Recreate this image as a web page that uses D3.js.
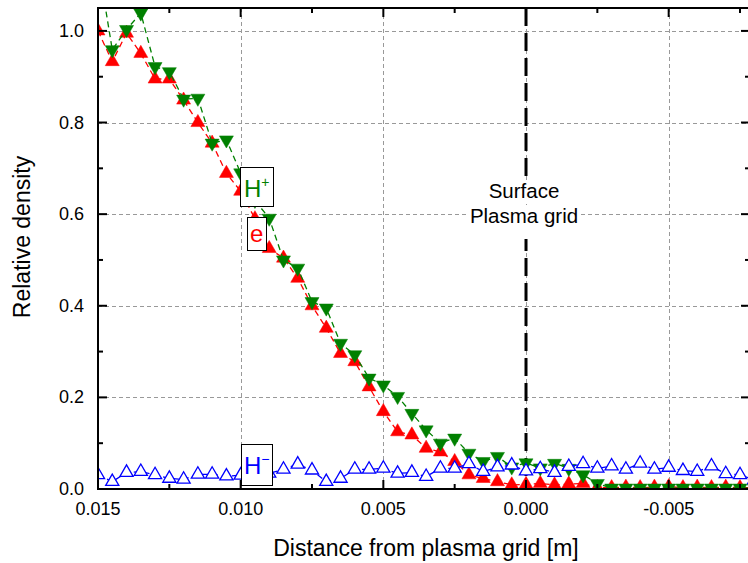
<!DOCTYPE html>
<html>
<head>
  <meta charset="utf-8">
  <title>Relative density vs distance from plasma grid</title>
  <script src="https://d3js.org/d3.v7.min.js"></script>
  <style>
    body { margin: 0; background: #fff; }
    text { font-family: "Liberation Sans", Arial, sans-serif; }
  </style>
</head>
<body>
<div id="chart"></div>
<script>
// distance from plasma grid [m]
var distance = [0.015, 0.0145, 0.014, 0.0135, 0.013, 0.0125, 0.012, 0.0115, 0.011, 0.0105,
  0.010, 0.0095, 0.009, 0.0085, 0.008, 0.0075, 0.007, 0.0065, 0.006, 0.0055,
  0.005, 0.0045, 0.004, 0.0035, 0.003, 0.0025, 0.002, 0.0015, 0.001, 0.0005,
  0.0, -0.0005, -0.001, -0.0015, -0.002, -0.0025, -0.003, -0.0035, -0.004, -0.0045,
  -0.005, -0.0055, -0.006, -0.0065, -0.007, -0.0075, -0.008];

// electrons
var electrons = [1.00, 0.933, 0.995, 0.951, 0.895, 0.895, 0.849, 0.80, 0.755, 0.689,
  0.65, 0.59, 0.525, 0.504, 0.46, 0.40, 0.351, 0.296, 0.278, 0.223,
  0.169, 0.125, 0.118, 0.089, 0.081, 0.060, 0.031, 0.023, 0.016, 0.009,
  0.010, 0.012, 0.009, 0.011, 0.012, 0.003, 0.003, 0.004, 0.003, 0.004,
  0.005, 0.003, 0.004, 0.003, 0.004, 0.003, 0.003];

// positive ions H+
var hPlus = [1.15, 0.959, 1.003, 1.039, 0.922, 0.911, 0.851, 0.853, 0.755, 0.762,
  0.69, 0.63, 0.591, 0.50, 0.482, 0.409, 0.395, 0.318, 0.293, 0.242,
  0.227, 0.202, 0.165, 0.129, 0.10, 0.111, 0.078, 0.060, 0.071, 0.048,
  0.057, 0.046, 0.056, 0.045, 0.031, 0.012, 0.002, 0.002, 0.002, 0.002,
  0.002, 0.002, 0.002, 0.002, 0.002, 0.002, 0.002];

// negative ions H-
var hMinus = [0.031, 0.016, 0.036, 0.038, 0.031, 0.023, 0.021, 0.032, 0.032, 0.028,
  0.030, 0.033, 0.034, 0.043, 0.054, 0.041, 0.016, 0.023, 0.043, 0.043,
  0.045, 0.034, 0.036, 0.027, 0.045, 0.045, 0.055, 0.038, 0.048, 0.052,
  0.039, 0.044, 0.036, 0.049, 0.055, 0.045, 0.050, 0.043, 0.056, 0.043,
  0.047, 0.040, 0.038, 0.050, 0.033, 0.031, 0.020];

var xTicks = [0.015, 0.010, 0.005, 0.000, -0.005];
var xMinor = [0.0125, 0.0075, 0.0025, -0.0025, -0.0075];
var yTicks = [0.0, 0.2, 0.4, 0.6, 0.8, 1.0];
var yMinor = [0.1, 0.3, 0.5, 0.7, 0.9];

var W = 748, H = 563;
var pL = 98, pR = 750, pT = 8, pB = 489;

var svg = d3.select("#chart").append("svg")
  .attr("width", W).attr("height", H);

var x = d3.scaleLinear().domain([0.015, -0.00785]).range([pL, pR]);
var y = d3.scaleLinear().domain([0, 1.05]).range([pB, pT]);

svg.append("defs").append("clipPath").attr("id", "clip")
  .append("rect").attr("x", pL).attr("y", pT)
  .attr("width", pR - pL).attr("height", pB - pT);

// grid
var grid = svg.append("g").attr("stroke", "#999").attr("stroke-width", 1)
  .attr("stroke-dasharray", "4,3");
grid.selectAll(".gx").data(xTicks.slice(1)).enter().append("line")
  .attr("x1", function(d) { return Math.round(x(d)) + 0.5; })
  .attr("x2", function(d) { return Math.round(x(d)) + 0.5; })
  .attr("y1", pT).attr("y2", pB);
grid.selectAll(".gy").data(yTicks.slice(1)).enter().append("line")
  .attr("y1", function(d) { return Math.round(y(d)) + 0.5; })
  .attr("y2", function(d) { return Math.round(y(d)) + 0.5; })
  .attr("x1", pL).attr("x2", pR);

// surface line at x = 0
svg.append("line")
  .attr("x1", x(0)).attr("x2", x(0)).attr("y1", pT).attr("y2", pB)
  .attr("stroke", "#000").attr("stroke-width", 3)
  .attr("stroke-dasharray", "18,7");

var plot = svg.append("g").attr("clip-path", "url(#clip)");

var series = [
  { name: "e", values: electrons, color: "#ff0000", fill: true, rot: 0 },
  { name: "H+", values: hPlus, color: "#008000", fill: true, rot: 180 },
  { name: "H-", values: hMinus, color: "#0000ff", fill: false, rot: 0 }
];

var line = d3.line()
  .x(function(d) { return x(d[0]); })
  .y(function(d) { return y(d[1]); });

series.forEach(function(s) {
  var pts = distance.map(function(d, i) { return [d, s.values[i]]; });
  plot.append("path").datum(pts)
    .attr("d", line).attr("fill", "none")
    .attr("stroke", s.color).attr("stroke-width", 1.3)
    .attr("stroke-dasharray", "6,4");
  plot.selectAll(null).data(pts).enter().append("path")
    .attr("d", d3.symbol(d3.symbolTriangle, s.fill ? 85 : 75))
    .attr("transform", function(d) {
      return "translate(" + x(d[0]) + "," + y(d[1]) + ") rotate(" + s.rot + ")";
    })
    .attr("fill", s.fill ? s.color : "#fff")
    .attr("stroke", s.color)
    .attr("stroke-width", s.fill ? 0.5 : 1.3);
});

// axes frame and inward ticks
var fmt = function(d) { return d3.format(".3f")(d).replace("\u2212", "-"); };
var axes = svg.append("g").attr("stroke", "#000").attr("stroke-width", 2);
axes.append("line").attr("x1", pL - 1).attr("x2", pR).attr("y1", pB).attr("y2", pB);
axes.append("line").attr("x1", pL - 1).attr("x2", pR).attr("y1", pT).attr("y2", pT);
axes.append("line").attr("x1", pL).attr("x2", pL).attr("y1", pT).attr("y2", pB);
axes.append("line").attr("x1", pR).attr("x2", pR).attr("y1", pT).attr("y2", pB);

function xTickMarks(vals, len) {
  vals.forEach(function(v) {
    axes.append("line").attr("x1", x(v)).attr("x2", x(v)).attr("y1", pB).attr("y2", pB - len);
    axes.append("line").attr("x1", x(v)).attr("x2", x(v)).attr("y1", pT).attr("y2", pT + len);
  });
}
function yTickMarks(vals, len) {
  vals.forEach(function(v) {
    axes.append("line").attr("y1", y(v)).attr("y2", y(v)).attr("x1", pL).attr("x2", pL + len);
    axes.append("line").attr("y1", y(v)).attr("y2", y(v)).attr("x1", pR).attr("x2", pR - len);
  });
}
xTickMarks(xTicks, 9); xTickMarks(xMinor, 5);
yTickMarks(yTicks, 9); yTickMarks(yMinor, 5);

svg.selectAll(".xl").data(xTicks).enter().append("text")
  .attr("x", function(d) { return x(d); }).attr("y", 515)
  .attr("text-anchor", "middle").attr("font-size", 18).text(fmt);
svg.selectAll(".yl").data(yTicks).enter().append("text")
  .attr("x", 84).attr("y", function(d) { return y(d) + 6; })
  .attr("text-anchor", "end").attr("font-size", 18)
  .text(function(d) { return d3.format(".1f")(d); });

svg.append("text").attr("x", 426).attr("y", 556).attr("text-anchor", "middle")
  .attr("font-size", 23).text("Distance from plasma grid [m]");
svg.append("text").attr("transform", "translate(30,237) rotate(-90)")
  .attr("text-anchor", "middle").attr("font-size", 23).text("Relative density");

// surface annotation
var surf = svg.append("g");
surf.append("rect").attr("x", 486).attr("y", 180).attr("width", 76).attr("height", 22).attr("fill", "#fff");
surf.append("rect").attr("x", 467).attr("y", 205).attr("width", 114).attr("height", 34).attr("fill", "#fff");
surf.append("text").attr("x", 524).attr("y", 198).attr("text-anchor", "middle")
  .attr("font-size", 20.5).text("Surface");
surf.append("text").attr("x", 524).attr("y", 223).attr("text-anchor", "middle")
  .attr("font-size", 20.5).text("Plasma grid");

// series labels
function label(bx, by, bw, bh, color, base, sup, tx, ty) {
  var g = svg.append("g");
  g.append("rect").attr("x", bx + 0.5).attr("y", by + 0.5).attr("width", bw).attr("height", bh)
    .attr("fill", "#fff").attr("stroke", "#000").attr("stroke-width", 1);
  var t = g.append("text").attr("x", tx).attr("y", ty).attr("fill", color).attr("font-size", 24);
  t.append("tspan").text(base);
  if (sup) t.append("tspan").attr("font-size", 14).attr("dy", -10).text(sup);
}
label(240, 167, 33, 39, "#008000", "H", "+", 244, 197);
label(247, 217, 19, 33, "#ff0000", "e", null, 250, 242);
label(241, 444, 31, 41, "#0000ff", "H", "\u2212", 244, 474);
</script>
</body>
</html>
